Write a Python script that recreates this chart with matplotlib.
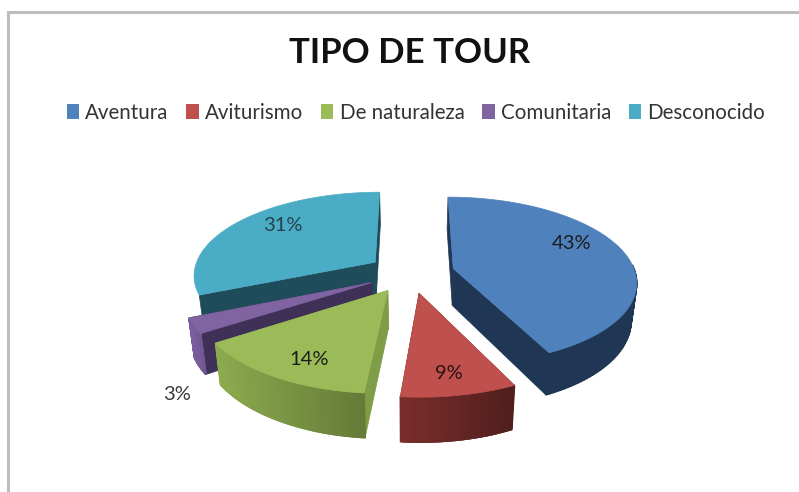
import numpy as np
import matplotlib
matplotlib.use("Agg")
import matplotlib.pyplot as plt
from matplotlib.patches import Polygon, Rectangle
from matplotlib.lines import Line2D

plt.rcParams['font.family'] = ['Lato', 'DejaVu Sans']

# data
categories = ['Aventura', 'Aviturismo', 'De naturaleza', 'Comunitaria', 'Desconocido']
values = [42.9, 8.6, 14.3, 2.9, 31.4]
title = 'TIPO DE TOUR'

# style
top_colors = ['#4f81bd', '#c0504d', '#9bbb59', '#8064a2', '#4bacc6']
wall_start = ['#1f3654', '#7a2e2b', '#8cab4e', '#7a5fa0', '#3f93aa']
wall_end = ['#1f3654', '#4f1e1c', '#647a38', '#6f5590', '#3f93aa']
wall_visible = [True, True, True, True, False]
cut_colors = ['#1f3654', '#5a2220', '#7f9c47', '#3f3057', '#1f4c5a']
label_r = [0.765, 0.81, 0.79, 1.39, 0.747]
label_da = [-11.7, 0.8, -3.5, -24.0, 7.0]
label_colors = ['#1c1c1c', '#2a1414', '#1c1c1c', '#3a3a3a', '#26434d']

CX, CY, R, K, P, DEPTH, EXPLODE, SHRINK = 411, 273, 182, 0.455, 0.142, 37, 0.24, 0.025


def proj(X, Y, Z=0.0):
    s = 1.0 / (1.0 + P * np.asarray(Y))
    return (CX + R * np.asarray(X) * s * (1 - SHRINK * Z),
            CY - R * K * np.asarray(Y) * s + Z * DEPTH * s)


def mix(a, b, t):
    ca = np.array(matplotlib.colors.to_rgb(a))
    cb = np.array(matplotlib.colors.to_rgb(b))
    return tuple(ca + (cb - ca) * t)


fig = plt.figure(figsize=(7.99, 4.92), dpi=100)
ax = fig.add_axes([0, 0, 1, 1])
ax.set_xlim(0, 799)
ax.set_ylim(492, 0)
ax.axis('off')

# chart frame (top and left only)
ax.add_line(Line2D([8, 8, 799], [492, 12, 12], color='#bdbdbd', lw=2.2, solid_joinstyle='miter'))

total = sum(values)
edges = np.cumsum([0] + values) / total * 2 * np.pi
slices = []
for i in range(len(values)):
    a0, a1 = edges[i], edges[i + 1]
    mid = (a0 + a1) / 2
    ox, oy = EXPLODE * np.sin(mid), EXPLODE * np.cos(mid)
    slices.append((i, a0, a1, mid, ox, oy))

# back-to-front drawing order
for i, a0, a1, mid, ox, oy in sorted(slices, key=lambda s: -s[5]):
    th = np.linspace(a0, a1, 121)
    X = ox + np.sin(th)
    Y = oy + np.cos(th)
    # radial cut faces
    for ang in (a0, a1):
        ex, ey = ox + np.sin(ang), oy + np.cos(ang)
        p = [proj(ox, oy, 0), proj(ex, ey, 0), proj(ex, ey, 1), proj(ox, oy, 1)]
        ax.add_patch(Polygon(p, closed=True, fc=cut_colors[i], ec=cut_colors[i], lw=0.5, zorder=2 + (-oy)))
    # outer wall with a left-to-right gradient
    xs0, ys0 = proj(X, Y, 0)
    xs1, ys1 = proj(X, Y, 1)
    xmin, xmax = xs0.min(), xs0.max()
    if wall_visible[i]:
        for j in range(len(th) - 1):
            if np.cos((th[j] + th[j + 1]) / 2) > 0.05:
                continue
            t = ((xs0[j] + xs0[j + 1]) / 2 - xmin) / max(xmax - xmin, 1)
            c = mix(wall_start[i], wall_end[i], t)
            quad = [(xs0[j], ys0[j]), (xs0[j + 1], ys0[j + 1]), (xs1[j + 1], ys1[j + 1]), (xs1[j], ys1[j])]
            ax.add_patch(Polygon(quad, closed=True, fc=c, ec=c, lw=1.2, zorder=2 + (-oy) + 0.01))
    # top face
    ax0, ay0 = proj(ox, oy, 0)
    pts = np.vstack([[ax0, ay0], np.column_stack([xs0, ys0])])
    ax.add_patch(Polygon(pts, closed=True, fc=top_colors[i], ec=top_colors[i], lw=0.5, zorder=2 + (-oy) + 0.02))

# data labels
for i, a0, a1, mid, ox, oy in slices:
    ang = mid + np.radians(label_da[i])
    lx, ly = proj(ox + label_r[i] * np.sin(ang), oy + label_r[i] * np.cos(ang), 0)
    ax.text(lx, ly, f'{round(values[i])}%', ha='center', va='center', fontsize=14.5,
            color=label_colors[i], zorder=10)

ax.text(410, 53, title, ha='center', va='center', fontsize=25, fontweight='bold', color='#111111')

handles = [Rectangle((0, 0), 1, 1, fc=c, ec='none') for c in top_colors]
leg = ax.legend(handles, categories, ncol=5, loc='center', bbox_to_anchor=(416 / 799, 1 - 113 / 492),
                frameon=False, fontsize=14.8, handlelength=0.6, handleheight=0.75, handletextpad=0.3,
                columnspacing=0.87, labelcolor='#333333', borderpad=0, borderaxespad=0)

fig.savefig('out.png', dpi=100)
